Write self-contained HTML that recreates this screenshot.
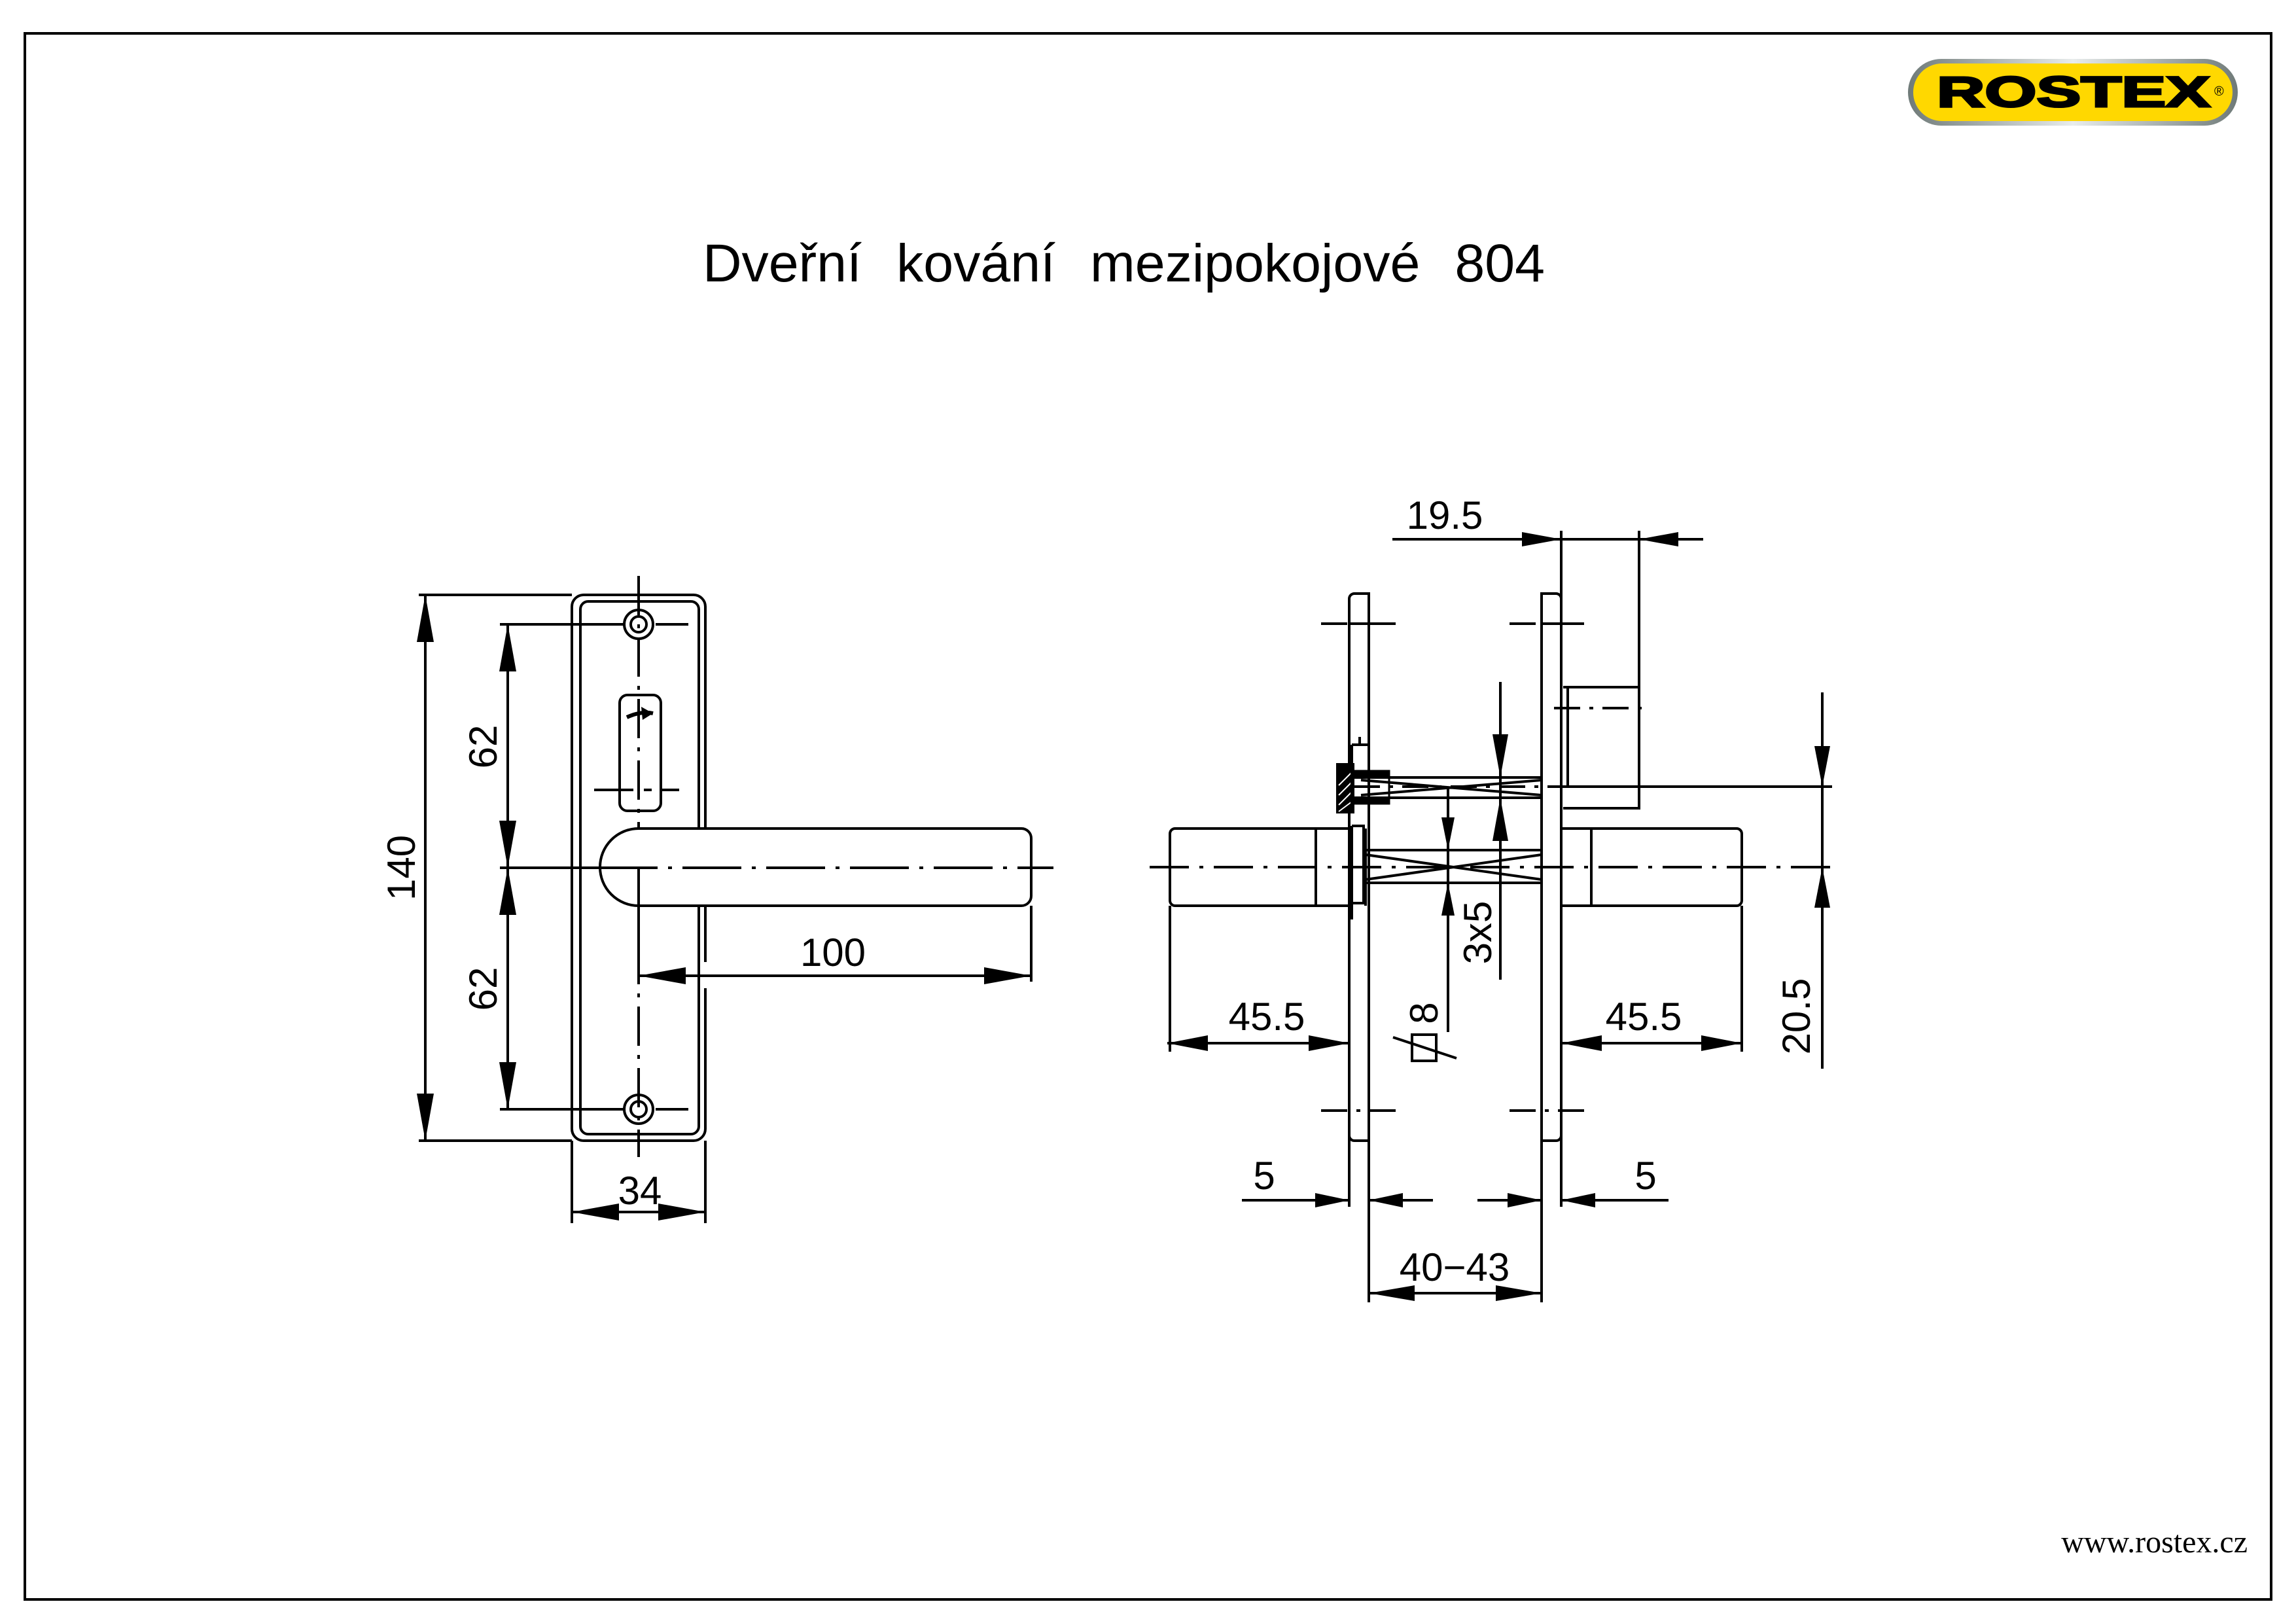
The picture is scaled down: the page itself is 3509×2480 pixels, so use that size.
<!DOCTYPE html>
<html><head><meta charset="utf-8"><style>
html,body{margin:0;padding:0;background:#fff}
svg{display:block}
text{font-family:"Liberation Sans",sans-serif;fill:#000}
</style></head><body>
<svg width="3509" height="2480" viewBox="0 0 3509 2480" xmlns="http://www.w3.org/2000/svg">
<rect x="38" y="51" width="3433" height="2393" fill="none" stroke="#000" stroke-width="4"/>
<!-- logo -->
<defs><linearGradient id="g" x1="0" x2="1"><stop offset="0" stop-color="#6f7a78"/><stop offset="0.5" stop-color="#e8ecec"/><stop offset="1" stop-color="#6f7a78"/></linearGradient></defs>
<rect x="2916" y="90" width="504" height="102" rx="51" fill="url(#g)"/>
<rect x="2924" y="97" width="488" height="88" rx="44" fill="#ffd800"/>
<text x="2960" y="163" font-size="66" font-weight="bold" textLength="418" lengthAdjust="spacingAndGlyphs" style="font-family:'Liberation Sans',sans-serif;font-weight:900" stroke="#000" stroke-width="3">ROSTEX</text>
<text x="3384" y="146" font-size="20">®</text>
<!-- title -->
<text x="1074" y="430" font-size="82" textLength="1287" lengthAdjust="spacingAndGlyphs" style="font-weight:300;word-spacing:30px">Dveřní   kování   mezipokojové   804</text>
<text x="3435" y="2372" font-size="48" text-anchor="end" style="font-family:'Liberation Serif',serif">www.rostex.cz</text>

<g fill="none" stroke="#000" stroke-width="4">
<!-- LEFT VIEW -->
<rect x="874" y="909" width="204" height="834" rx="18"/>
<rect x="887" y="919" width="181" height="814" rx="12"/>
<circle cx="976" cy="954" r="22"/><circle cx="976" cy="954" r="12"/>
<circle cx="976" cy="1695" r="22"/><circle cx="976" cy="1695" r="12"/>
<rect x="947" y="1062" width="63" height="177" rx="12"/>
<path d="M958 1096 Q980 1086 998 1090" stroke-width="6"/>
<path d="M1038 1207 H1012 M996 1207 H984 M968 1207 H908" />
<path d="M937 954 H950 M1002 954 H1052 M900 954 H920 M937 1695 H950 M1002 1695 H1052 M900 1695 H920"/>
<path d="M976 880 V1768" stroke-dasharray="60 14 6 14"/>
<path d="M976 1326 V1500"/>
<path d="M976 1266 H1561 A15 15 0 0 1 1576 1281 V1369 A15 15 0 0 1 1561 1384 H976 A59 59 0 0 1 976 1266 Z" fill="#fff"/>
<path d="M764 1326 H915"/>
<path d="M915 1326 H1610" stroke-dasharray="90 16 6 16"/>
<path d="M976 1326 V1384"/>
<rect x="1070" y="1470" width="14" height="40" fill="#fff" stroke="none"/>
<path d="M1576 1384 V1500"/>
<path d="M640 909 H874 M640 1743 H874 M650 909 V1743"/>
<path d="M764 954 H955 M764 1695 H955 M776 954 V1695"/>
<path d="M976 1491 H1576"/>
<path d="M874 1743 V1869 M1078 1743 V1869 M874 1852 H1078"/>

<!-- RIGHT VIEW -->
<path d="M2062 1844 V915 A8 8 0 0 1 2070 907 H2092 V1990 M2062 1735 A8 8 0 0 0 2070 1743 H2092"/>
<path d="M2386 1844 V811 M2356 1990 V907 H2378 A8 8 0 0 1 2386 915 M2356 1743 H2378 A8 8 0 0 0 2386 1735"/>
<path d="M2505 811 V1235 H2389 M2389 1050 H2505 M2396 1050 V1200"/>
<path d="M2375 1082 H2521" stroke-dasharray="40 14 6 14"/>
<path d="M2019 953 H2140 M2307 953 H2428 M2019 1697 H2140 M2307 1697 H2428" stroke-dasharray="40 14 6 14" />
<path d="M2062 953 H2092 M2356 953 H2386"/>
<!-- handles -->
<path d="M2062 1266 H1796 A8 8 0 0 0 1788 1274 V1376 A8 8 0 0 0 1796 1384 H2062 M2011 1266 V1384"/>
<path d="M2386 1266 H2654 A8 8 0 0 1 2662 1274 V1376 A8 8 0 0 1 2654 1384 H2386 M2432 1266 V1384"/>
<path d="M1757 1325 H2800" stroke-dasharray="60 16 6 16"/>
<!-- spindles -->
<path d="M2087 1299 H2356 M2087 1349 H2356 M2087 1306 L2356 1344 M2087 1344 L2356 1306"/>
<path d="M2069 1188 H2356 M2069 1219 H2356 M2080 1192 L2356 1215 M2080 1215 L2356 1192"/>
<path d="M2389 1202 H2800"/>
<path d="M2069 1202 H2389" stroke-dasharray="40 14 6 14"/>
<!-- hatched bits -->
<rect x="2043" y="1167" width="26" height="75" fill="#000" stroke-width="2"/>
<path d="M2069 1178 H2123 V1228 H2069" stroke-width="3"/>
<path d="M2069 1178 H2123 V1188 H2069 Z M2069 1219 H2123 V1228 H2069 Z" fill="#000" stroke-width="2"/>
<g stroke="#fff" stroke-width="2"><path d="M2046 1200 L2066 1180 M2046 1215 L2066 1195 M2046 1230 L2066 1210 M2046 1240 L2066 1225"/></g>
<path d="M2066 1138 V1242 M2066 1138 H2090 M2078 1138 V1126 M2066 1262 V1405 M2066 1262 H2084 V1380 H2066"/>
<path d="M2087 1266 V1384"/>
<!-- dims -->
<path d="M2128 824 H2603"/>
<path d="M2293 1042 V1497"/>
<path d="M2213 1202 V1577"/>
<rect x="2158" y="1581" width="37" height="40"/>
<path d="M2129 1585 L2226 1617"/>
<path d="M2785 1058 V1633"/>
<path d="M1788 1384 V1607 M1784 1594 H2062 M2662 1384 V1607 M2386 1594 H2662"/>
<path d="M1898 1834 H2062 M2092 1834 H2190 M2258 1834 H2356 M2386 1834 H2550"/>
<path d="M2092 1976 H2356"/>
</g>

<g fill="#000">
<polygon points="998,1090 980,1080 982,1100"/>
<polygon points="650,909 637,981 663,981"/><polygon points="650,1743 637,1671 663,1671"/>
<polygon points="776,954 763,1026 789,1026"/><polygon points="776,1326 763,1254 789,1254"/>
<polygon points="776,1326 763,1398 789,1398"/><polygon points="776,1695 763,1623 789,1623"/>
<polygon points="976,1491 1048,1478 1048,1504"/><polygon points="1576,1491 1504,1478 1504,1504"/>
<polygon points="874,1852 946,1839 946,1865"/><polygon points="1078,1852 1006,1839 1006,1865"/>
<polygon points="2386,824 2326,813 2326,835"/><polygon points="2505,824 2565,813 2565,835"/>
<polygon points="2293,1188 2281,1122 2305,1122"/><polygon points="2293,1219 2281,1285 2305,1285"/>
<polygon points="2213,1299 2203,1249 2223,1249"/><polygon points="2213,1349 2203,1399 2223,1399"/>
<polygon points="2785,1202 2773,1140 2797,1140"/><polygon points="2785,1325 2773,1387 2797,1387"/>
<polygon points="1784,1594 1846,1582 1846,1606"/><polygon points="2062,1594 2000,1582 2000,1606"/>
<polygon points="2386,1594 2448,1582 2448,1606"/><polygon points="2662,1594 2600,1582 2600,1606"/>
<polygon points="2062,1834 2010,1823 2010,1845"/><polygon points="2092,1834 2144,1823 2144,1845"/>
<polygon points="2356,1834 2304,1823 2304,1845"/><polygon points="2386,1834 2438,1823 2438,1845"/>
<polygon points="2092,1976 2162,1964 2162,1988"/><polygon points="2356,1976 2286,1964 2286,1988"/>
</g>

<g font-size="60" text-anchor="middle">
<text x="0" y="0" transform="translate(634,1326) rotate(-90)">140</text>
<text transform="translate(759,1141) rotate(-90)">62</text>
<text transform="translate(759,1511) rotate(-90)">62</text>
<text x="1273" y="1476">100</text>
<text x="978" y="1840">34</text>
<text x="2208" y="808">19.5</text>
<text transform="translate(2279,1425) rotate(-90)">3x5</text>
<text transform="translate(2197,1548) rotate(-90)">8</text>
<text transform="translate(2766,1553) rotate(-90)">20.5</text>
<text x="1936" y="1574">45.5</text>
<text x="2512" y="1574">45.5</text>
<text x="1932" y="1817">5</text>
<text x="2515" y="1817">5</text>
<text x="2223" y="1957">40−43</text>
</g>
</svg>
</body></html>
